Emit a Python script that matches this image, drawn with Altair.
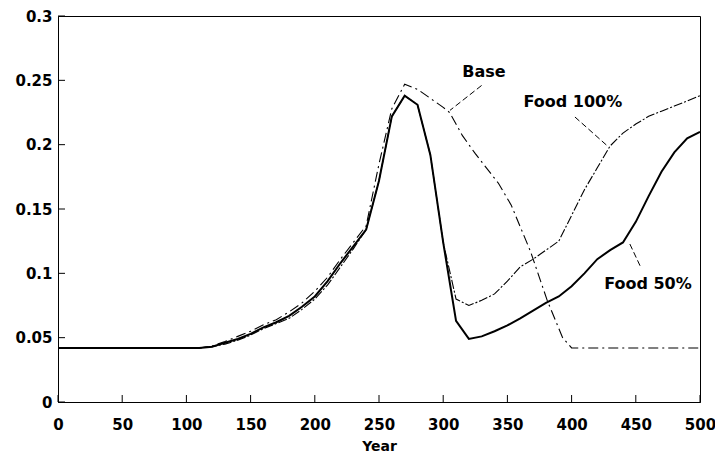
import altair as alt
import pandas as pd

# ---- data ----
years = [0, 110, 120, 130, 140, 150, 160, 170, 180, 190, 200, 210, 220, 230, 240,
         250, 260, 270, 280, 290, 300, 310, 320, 330, 340, 350, 360, 370, 380, 390,
         400, 410, 420, 430, 440, 450, 460, 470, 480, 490, 500]

food50 = [0.042, 0.042, 0.043, 0.046, 0.049, 0.053, 0.058, 0.062, 0.067, 0.074, 0.082,
          0.094, 0.108, 0.121, 0.134, 0.172, 0.222, 0.238, 0.231, 0.192, 0.124, 0.063,
          0.049, 0.051, 0.055, 0.0595, 0.065, 0.071, 0.077, 0.082, 0.090, 0.100, 0.111,
          0.118, 0.124, 0.140, 0.160, 0.179, 0.194, 0.205, 0.210]

food100 = [0.042, 0.042, 0.043, 0.045, 0.048, 0.052, 0.057, 0.061, 0.065, 0.072, 0.080,
           0.091, 0.105, 0.119, 0.134, 0.172, 0.222, 0.238, 0.231, 0.192, 0.124, 0.080,
           0.075, 0.079, 0.084, 0.094, 0.105, 0.111, 0.118, 0.125, 0.145, 0.165, 0.182,
           0.199, 0.209, 0.216, 0.222, 0.226, 0.230, 0.234, 0.238]

base_years = [0, 110, 120, 130, 140, 150, 160, 170, 180, 190, 200, 210, 220, 230, 240,
              250, 260, 270, 280, 290, 300, 305, 315, 325, 343, 353, 368, 381, 393, 400, 500]
base = [0.042, 0.042, 0.0435, 0.047, 0.051, 0.055, 0.060, 0.064, 0.070, 0.077, 0.086,
        0.097, 0.111, 0.124, 0.137, 0.185, 0.228, 0.247, 0.243, 0.236, 0.229, 0.225,
        0.207, 0.193, 0.170, 0.153, 0.117, 0.079, 0.050, 0.042, 0.042]

label_text = ["Base", "Food 100%", "Food 50%"]
label_x = [331.8, 401.0, 459.5]
label_y = [0.2562, 0.233, 0.0918]

leader_x = [329.9, 402.6, 453.3]
leader_y = [0.246, 0.2215, 0.1059]
leader_x2 = [305.3, 428.6, 444.9]
leader_y2 = [0.2267, 0.1984, 0.1238]

x_ticks = [0, 50, 100, 150, 200, 250, 300, 350, 400, 450, 500]
y_ticks = [0, 0.05, 0.1, 0.15, 0.2, 0.25, 0.3]

# ---- layout ----
W, H = 642, 386
X_MAX, Y_MAX = 500, 0.3
TICK_PX = 7
FONT = "DejaVu Sans"

# ---- tables ----
df50 = pd.DataFrame({"year": years, "value": food50})
df100 = pd.DataFrame({"year": years, "value": food100})
dfbase = pd.DataFrame({"year": base_years, "value": base})
dflab = pd.DataFrame({"text": label_text, "x": label_x, "y": label_y})
dflead = pd.DataFrame({"x": leader_x, "y": leader_y, "x2": leader_x2, "y2": leader_y2})
dfxt = pd.DataFrame({"x": x_ticks, "y": 0.0, "y2": Y_MAX * TICK_PX / H})
dfyt = pd.DataFrame({"y": y_ticks, "x": 0.0, "x2": X_MAX * TICK_PX / W})

xs = alt.Scale(domain=[0, X_MAX], nice=False, zero=False)
ys = alt.Scale(domain=[0, Y_MAX], nice=False, zero=False)

x_main_axis = alt.Axis(values=x_ticks, ticks=False, domain=True, domainColor="black",
                       grid=False, labelFont=FONT, labelFontSize=15, labelFontWeight="bold",
                       labelColor="black", labelPadding=15, labelFlush=False,
                       title="Year", titleFont=FONT, titleFontSize=14, titleFontWeight="bold",
                       titleColor="black", titlePadding=7)
y_main_axis = alt.Axis(values=y_ticks, format="~g", ticks=False, domain=True,
                       domainColor="black", grid=False, labelFont=FONT, labelFontSize=15,
                       labelFontWeight="bold", labelColor="black", labelPadding=6,
                       labelFlush=False, title=None)

line50 = alt.Chart(df50).mark_line(color="black", strokeWidth=2).encode(
    x=alt.X("year:Q", scale=xs, axis=x_main_axis),
    y=alt.Y("value:Q", scale=ys, axis=y_main_axis),
)

line100 = alt.Chart(df100).mark_line(color="black", strokeWidth=1.1,
                                     strokeDash=[9, 2, 2, 2]).encode(
    x=alt.X("year:Q", scale=xs),
    y=alt.Y("value:Q", scale=ys),
)

linebase = alt.Chart(dfbase).mark_line(color="black", strokeWidth=1.1,
                                       strokeDash=[10, 4, 2, 4]).encode(
    x=alt.X("year:Q", scale=xs),
    y=alt.Y("value:Q", scale=ys),
)

leaders = alt.Chart(dflead).mark_rule(color="black", strokeWidth=1,
                                      strokeDash=[6, 3]).encode(
    x=alt.X("x:Q", scale=xs),
    y=alt.Y("y:Q", scale=ys),
    x2="x2:Q",
    y2="y2:Q",
)

labels = alt.Chart(dflab).mark_text(font=FONT, fontSize=16, fontWeight="bold",
                                    color="black", align="center",
                                    baseline="middle").encode(
    x=alt.X("x:Q", scale=xs),
    y=alt.Y("y:Q", scale=ys),
    text="text:N",
)

xtick_marks = alt.Chart(dfxt).mark_rule(color="black", strokeWidth=1).encode(
    x=alt.X("x:Q", scale=xs),
    y=alt.Y("y:Q", scale=ys),
    y2="y2:Q",
)

ytick_marks = alt.Chart(dfyt).mark_rule(color="black", strokeWidth=1).encode(
    y=alt.Y("y:Q", scale=ys),
    x=alt.X("x:Q", scale=xs),
    x2="x2:Q",
)

chart = alt.layer(line50, line100, linebase, leaders, labels,
                  xtick_marks, ytick_marks).properties(
    width=W, height=H,
    autosize=alt.AutoSizeParams(type="none"),
    padding={"left": 50, "top": 8, "right": 15, "bottom": 58},
    background="white",
).configure_view(stroke="black", strokeWidth=1)

chart.save("out.html", embed_options={"renderer": "svg", "actions": False})
